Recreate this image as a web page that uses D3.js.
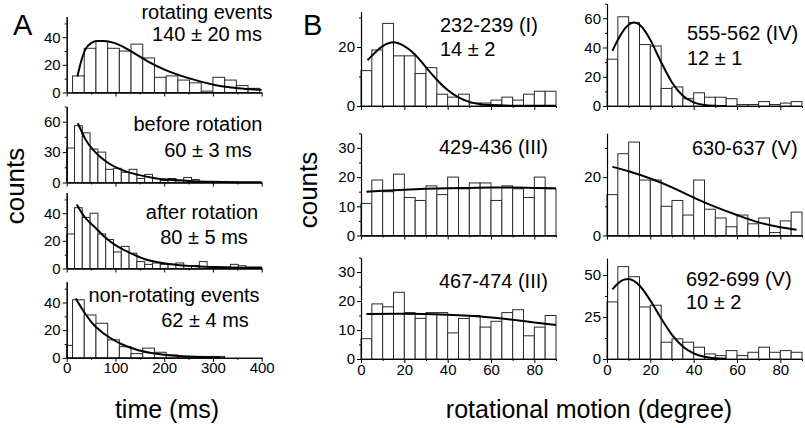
<!DOCTYPE html>
<html><head><meta charset="utf-8">
<script src="https://cdn.jsdelivr.net/npm/d3@7"></script>
<style>
body{margin:0;background:#fff}
svg{display:block}
text{font-family:"Liberation Sans",Arial,Helvetica,sans-serif;fill:#000}
</style>
</head><body>
<svg id="c" width="805" height="428"></svg>
<script>
// ================= DATA =================
// Panel A : dwell-time histograms (ms)
const timeTicks = [0, 100, 200, 300, 400];
const timeMinorTicks = [50, 150, 250, 350];
const panelATitles = ["rotating events", "before rotation", "after rotation", "non-rotating events"];
const panelAValues = ["140 \u00B1 20 ms", "60 \u00B1 3 ms", "80 \u00B1 5 ms", "62 \u00B1 4 ms"];

const rotatingCounts = [12, 32, 37, 32, 30, 35, 25, 11, 12, 9, 7, 1, 11, 9, 5, 3];
const rotatingBins = [12, 24];          // first bin edge (ms), bin width (ms)
const rotatingFit = [[22, 11.6], [30, 23], [38, 31], [51, 36], [62, 37.2], [75, 37.3], [99, 35.7], [133, 29.6],
  [167, 22.4], [202, 16.4], [250, 10.4], [304, 5.5], [352, 3.1], [400, 1.9]];

const beforeCounts = [34, 56, 49, 33, 30, 13, 14, 10, 13, 4, 8, 4, 2, 4, 2, 5, 3, 1];
const beforeBins = [0, 16];
const beforeFit = [[22.6, 58.6], [30, 51], [37.6, 43.3], [58, 30.3], [78.6, 21.5], [113, 12.4], [147, 7.5],
  [181, 4.2], [250, 1.6], [300, 0.8], [400, 0.3]];

const afterCounts = [25, 44, 37, 40, 25, 21, 12, 16, 11, 5, 3, 4, 3, 3, 4, 2, 2, 5, 1, 1, 1, 3, 2, 1, 1];
const afterBins = [0, 16];
const afterFit = [[20.5, 46.4], [37.6, 36.9], [58, 29.8], [78.6, 22.6], [99, 17.1], [126.5, 11.9], [160.7, 6.7],
  [201.7, 3.6], [250, 1.9], [318, 0.95], [400, 0.5]];

const nonRotCounts = [9, 42, 31, 25, 13, 8, 3, 7, 4, 2, 1, 1, 1, 1];
const nonRotBins = [-12, 24];
const nonRotFit = [[18.5, 42.9], [34, 34], [51, 25.7], [72, 18.6], [92, 13.8], [113, 9.8], [147, 5.5],
  [181, 3.1], [215, 1.7], [263, 0.7], [315, 0.25]];

const panelAYMax = [55, 75, 55, 55];
const panelAYTicks = [[0, 20, 40], [0, 30, 60], [0, 20, 40], [0, 20, 40]];
const panelAYMinor = [[10, 30, 50], [15, 45, 75], [10, 30, 50], [10, 30, 50]];

// Panel B : rotational motion histograms (degree), 5-degree bins
const degTicks = [0, 20, 40, 60, 80];
const degMinorTicks = [10, 30, 50, 70, 90];
const degBins = [0, 5];
const panelBTitles = ["232-239 (I)", "555-562 (IV)", "429-436 (III)", "630-637 (V)", "467-474 (III)", "692-699 (V)"];
const panelBValues = ["14 \u00B1 2", "12 \u00B1 1", "", "", "", "10 \u00B1 2"];

const b232Counts = [12, 19, 28, 17, 17, 11, 13, 4, 3, 4, 1, 1, 2, 3, 2, 4, 5, 5];
const b232Fit = [[3, 15.5], [5, 17], [10, 20.3], [15, 21.6], [20, 20.3], [25, 17.4], [30, 13.1], [35, 8.9],
  [40, 5.4], [45, 2.9], [50, 1.4], [55, 0.6], [60, 0.3], [70, 0.1], [90, 0.05]];

const b555Counts = [32, 61, 57, 42, 41, 12, 13, 5, 9, 6, 6, 5, 1, 1, 3, 1, 2, 3];
const b555Fit = [[2.5, 37.7], [5, 45.2], [7.5, 51.4], [10, 55.5], [12.5, 57], [15, 55.5], [17.5, 51.4], [20, 45.2],
  [25, 29.9], [30, 16.1], [35, 7], [40, 2.5], [45, 0.7], [50, 0.2], [55, 0.05]];

const b429Counts = [11, 19, 15, 21, 13, 12, 17, 14, 20, 16, 18, 18, 12, 17, 16, 13, 20, 16];
const b429Fit = [[2.5, 15], [10, 15.3], [20, 15.7], [30, 16], [40, 16.2], [50, 16.3], [60, 16.4], [70, 16.4],
  [80, 16.3], [90, 16.2]];

const b630Counts = [14, 28, 32, 19, 19, 10, 12, 7, 19, 9, 6, 3, 7, 4, 6, 1, 5, 8];
const b630Fit = [[2.5, 23.5], [10, 22], [20, 19.5], [30, 16.5], [40, 13], [50, 9.8], [60, 7], [70, 4.5],
  [80, 2.8], [87.5, 2]];

const b467Counts = [7, 19, 18, 23, 16, 14, 16, 16, 9, 14, 15, 11, 13, 16, 17, 8, 11, 15];
const b467Fit = [[2.5, 15.5], [20, 15.6], [40, 15.3], [50, 14.9], [60, 14.3], [70, 13.5], [80, 12.6], [90, 11.7]];

const b692Counts = [34, 55, 49, 31, 32, 10, 12, 10, 7, 3, 2, 5, 2, 4, 7, 4, 5, 4];
const b692Fit = [[2.5, 41.4], [5, 44.9], [7.5, 47.1], [10, 47.6], [15, 43.7], [20, 34.8], [25, 24.1], [30, 14.4],
  [35, 7.5], [40, 3.4], [45, 1.3], [50, 0.45], [55, 0.13]];

const panelBYMax = [32, 70, 35, 35, 35, 60];
const panelBYTicks = [[0, 20], [0, 20, 40, 60], [0, 10, 20, 30], [0, 20], [0, 10, 20, 30], [0, 25, 50]];
const panelBYMinor = [[10, 30], [10, 30, 50, 70], [5, 15, 25, 35], [10, 30], [5, 15, 25, 35], [12.5, 37.5]];

// ================= DRAW =================
const svg = d3.select("#c");
const fmt = d3.format("d");

function histPanel(cfg) {
  const x = d3.scaleLinear().domain(cfg.xDomain).range(cfg.xRange);
  const y = d3.scaleLinear().domain([0, cfg.yMax]).range([cfg.bottom, cfg.top]);
  const g = svg.append("g");
  const [b0, bw] = cfg.bins;
  const bars = cfg.counts.map((c, i) => ({
    c,
    a: Math.max(b0 + i * bw, cfg.xDomain[0]),
    b: Math.min(b0 + (i + 1) * bw, cfg.xDomain[1])
  })).filter(d => d.c > 0);
  g.selectAll("rect").data(bars).join("rect")
    .attr("x", d => x(d.a)).attr("width", d => x(d.b) - x(d.a))
    .attr("y", d => y(d.c)).attr("height", d => y(0) - y(d.c))
    .attr("fill", "#fff").attr("stroke", "#2a2a2a").attr("stroke-width", 1);

  const xAx = g.append("g").attr("transform", `translate(0,${cfg.bottom})`);
  xAx.append("g").call(d3.axisBottom(x).tickValues(cfg.xMinor).tickSize(2).tickSizeOuter(0).tickFormat(""));
  xAx.append("g").call(d3.axisBottom(x).tickValues(cfg.xTicks).tickSize(4).tickSizeOuter(0)
    .tickPadding(1).tickFormat(cfg.xLabels ? fmt : ""));
  const yAx = g.append("g").attr("transform", `translate(${cfg.xRange[0]},0)`);
  yAx.append("g").call(d3.axisLeft(y).tickValues(cfg.yMinor).tickSize(2).tickSizeOuter(0).tickFormat(""));
  yAx.append("g").call(d3.axisLeft(y).tickValues(cfg.yTicks).tickSize(4).tickSizeOuter(0).tickPadding(2).tickFormat(fmt));
  g.selectAll(".domain").attr("stroke", "#000").attr("stroke-width", 1.1);
  g.selectAll(".tick line").attr("stroke", "#000");
  g.selectAll(".tick text").attr("font-size", 15).attr("fill", "#000")
    .attr("font-family", '"Liberation Sans",Arial,sans-serif');

  g.append("path").datum(cfg.fit)
    .attr("d", d3.line().x(d => x(d[0])).y(d => y(d[1])).curve(d3.curveMonotoneX))
    .attr("fill", "none").attr("stroke", "#000").attr("stroke-width", 2);
}

// ---- Panel A ----
const aSeries = [
  [rotatingCounts, rotatingBins, rotatingFit],
  [beforeCounts, beforeBins, beforeFit],
  [afterCounts, afterBins, afterFit],
  [nonRotCounts, nonRotBins, nonRotFit]
];
const aBox = [[16.5, 92.5], [106.5, 182.5], [192.5, 268.5], [281.8, 357.8]];
aSeries.forEach((s, i) => histPanel({
  counts: s[0], bins: s[1], fit: s[2],
  xDomain: [0, 400], xRange: [66.7, 261.7], xTicks: timeTicks, xMinor: timeMinorTicks, xLabels: i === 3,
  yMax: panelAYMax[i], yTicks: panelAYTicks[i], yMinor: panelAYMinor[i],
  top: aBox[i][0], bottom: aBox[i][1]
}));
const aTextPos = [[207, 19, 207, 41], [198, 131, 208, 157], [202, 219, 204, 244], [174, 302, 205, 327]];
aTextPos.forEach((p, i) => {
  svg.append("text").attr("x", p[0]).attr("y", p[1]).attr("text-anchor", "middle").attr("font-size", 20).text(panelATitles[i]);
  svg.append("text").attr("x", p[2]).attr("y", p[3]).attr("text-anchor", "middle").attr("font-size", 20).text(panelAValues[i]);
});

// ---- Panel B ----
const bSeries = [
  [b232Counts, b232Fit], [b555Counts, b555Fit],
  [b429Counts, b429Fit], [b630Counts, b630Fit],
  [b467Counts, b467Fit], [b692Counts, b692Fit]
];
const bCols = [[361, 556], [607, 802]];
const bBox = [[11.6, 106], [3.6, 106], [133.3, 235.5], [133.3, 235.5], [257.5, 359], [258.2, 359]];
bSeries.forEach((s, i) => histPanel({
  counts: s[0], bins: degBins, fit: s[1],
  xDomain: [0, 90], xRange: bCols[i % 2], xTicks: degTicks, xMinor: degMinorTicks, xLabels: i >= 4,
  yMax: panelBYMax[i], yTicks: panelBYTicks[i], yMinor: panelBYMinor[i],
  top: bBox[i][0], bottom: bBox[i][1]
}));
const bTextPos = [[440, 32, 440, 56], [687, 40, 687, 65], [439, 154, 0, 0], [692, 155, 0, 0], [439, 288, 0, 0], [686, 286, 686, 309]];
bTextPos.forEach((p, i) => {
  svg.append("text").attr("x", p[0]).attr("y", p[1]).attr("font-size", 20).text(panelBTitles[i]);
  if (panelBValues[i]) svg.append("text").attr("x", p[2]).attr("y", p[3]).attr("font-size", 20).text(panelBValues[i]);
});

// ---- Panel letters & axis titles ----
svg.append("text").attr("x", 13).attr("y", 35).attr("font-size", 29).text("A");
svg.append("text").attr("x", 303).attr("y", 35).attr("font-size", 29).text("B");
svg.append("text").attr("transform", "translate(24,186) rotate(-90)").attr("text-anchor", "middle").attr("font-size", 26).text("counts");
svg.append("text").attr("transform", "translate(317,190) rotate(-90)").attr("text-anchor", "middle").attr("font-size", 26).text("counts");
svg.append("text").attr("x", 167).attr("y", 418).attr("text-anchor", "middle").attr("font-size", 25).text("time (ms)");
svg.append("text").attr("x", 589).attr("y", 418).attr("text-anchor", "middle").attr("font-size", 25).text("rotational motion (degree)");
</script>
</body></html>
